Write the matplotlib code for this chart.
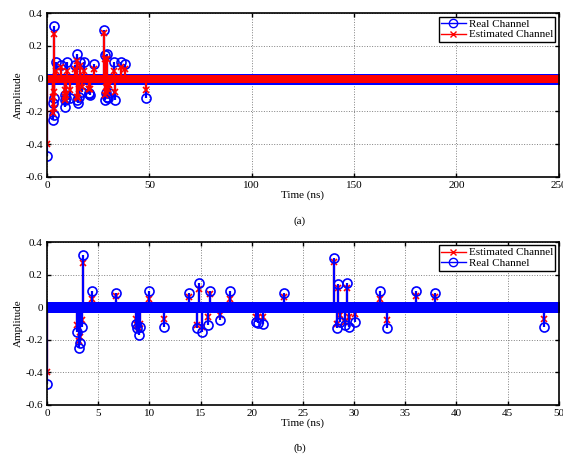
import numpy as np
import matplotlib
matplotlib.use("Agg")
import matplotlib.pyplot as plt
from matplotlib.lines import Line2D

# channel taps (time in ns, amplitude)
tap_times = [0.0, 2.96, 3.09, 3.25, 3.41, 3.54, 4.42, 6.76, 8.67, 8.76, 8.93, 9.06,
             9.93, 11.46, 13.9, 14.7, 14.87, 15.13, 15.77, 15.94, 16.91, 17.89,
             20.39, 20.64, 21.1, 23.17, 28.01, 28.33, 28.47, 28.6, 29.15, 29.35,
             29.57, 30.03, 32.5, 33.26, 36.07, 37.92, 48.56]
real_taps = [-0.47, -0.15, -0.25, -0.22, -0.12, 0.32, 0.10, 0.085, -0.10, -0.13, -0.17, -0.12,
             0.10, -0.12, 0.085, -0.13, 0.15, -0.15, -0.11, 0.10, -0.08, 0.10,
             -0.09, -0.095, -0.10, 0.09, 0.30, -0.13, 0.145, -0.09, -0.11, 0.15,
             -0.12, -0.09, 0.10, -0.13, 0.10, 0.088, -0.12]
est_taps = [-0.40, -0.11, -0.21, -0.18, -0.08, 0.27, 0.05, 0.07, -0.07, -0.11, -0.13, -0.10,
            0.05, -0.07, 0.06, -0.11, 0.11, -0.12, -0.06, 0.08, -0.05, 0.05,
            -0.06, -0.06, -0.06, 0.06, 0.28, -0.10, 0.12, -0.05, -0.09, 0.12,
            -0.06, -0.04, 0.05, -0.08, 0.07, 0.06, -0.07]

dt = 0.05
t_end = 250
time_ns = np.arange(0, t_end, dt)
idx = np.rint(np.array(tap_times) / dt).astype(int)
h_real = np.zeros(len(time_ns))
h_est = np.zeros(len(time_ns))
h_real[idx] = real_taps
h_est[idx] = est_taps

plt.rcParams['font.family'] = ['Liberation Serif', 'DejaVu Serif']
plt.rcParams['font.size'] = 8
plt.rcParams['axes.unicode_minus'] = False


def draw_stem(ax, h, color, marker, ms):
    markers, stems, base = ax.stem(time_ns, h, linefmt='-', markerfmt=marker, basefmt='-')
    plt.setp(stems, color=color, linewidth=1.6)
    plt.setp(markers, color=color, markersize=ms, markerfacecolor='none', markeredgewidth=1.2)
    plt.setp(base, color=color, linewidth=1.0)


def style_axes(ax, xmax, xstep):
    ax.set_xlim(0, xmax)
    ax.set_ylim(-0.6, 0.4)
    ax.set_xticks(np.arange(0, xmax + 1, xstep))
    ax.set_yticks([-0.6, -0.4, -0.2, 0, 0.2, 0.4])
    ax.set_yticklabels(['-0.6', '-0.4', '-0.2', '0', '0.2', '0.4'])
    ax.grid(True, linestyle=':', color='gray', linewidth=0.7)
    ax.tick_params(direction='in', top=True, right=True, length=3, width=1, pad=3)
    for s in ax.spines.values():
        s.set_linewidth(1.2)
    ax.set_ylabel('Amplitude', labelpad=2)
    ax.set_xlabel('Time (ns)', labelpad=0)


real_handle = Line2D([], [], color='b', marker='o', markerfacecolor='none', markersize=6, linewidth=1)
est_handle = Line2D([], [], color='r', marker='x', markersize=5, linewidth=1)

fig = plt.figure(figsize=(5.63, 4.55), dpi=100)
ax1 = fig.add_axes([0.0835, 0.611, 0.909, 0.360])
ax2 = fig.add_axes([0.0835, 0.110, 0.909, 0.358])

# (a) full 250 ns: real first, estimate on top
draw_stem(ax1, h_real, 'b', 'o', 6.5)
draw_stem(ax1, h_est, 'r', 'x', 5)
style_axes(ax1, 250, 50)
ax1.legend([real_handle, est_handle], ['Real Channel', 'Estimated Channel'],
           loc='upper right', fancybox=False, edgecolor='k', framealpha=1,
           borderpad=0.2, labelspacing=0.1, handlelength=2.2, handletextpad=0.3,
           borderaxespad=0.3)

# (b) zoom on first 50 ns: estimate first, real on top
draw_stem(ax2, h_est, 'r', 'x', 5)
draw_stem(ax2, h_real, 'b', 'o', 6.5)
style_axes(ax2, 50, 5)
ax2.legend([est_handle, real_handle], ['Estimated Channel', 'Real Channel'],
           loc='upper right', fancybox=False, edgecolor='k', framealpha=1,
           borderpad=0.2, labelspacing=0.1, handlelength=2.2, handletextpad=0.3,
           borderaxespad=0.3)

fig.text(0.532, 0.514, '(a)', ha='center', va='center')
fig.text(0.532, 0.0154, '(b)', ha='center', va='center')

fig.savefig('out.png', dpi=100)
